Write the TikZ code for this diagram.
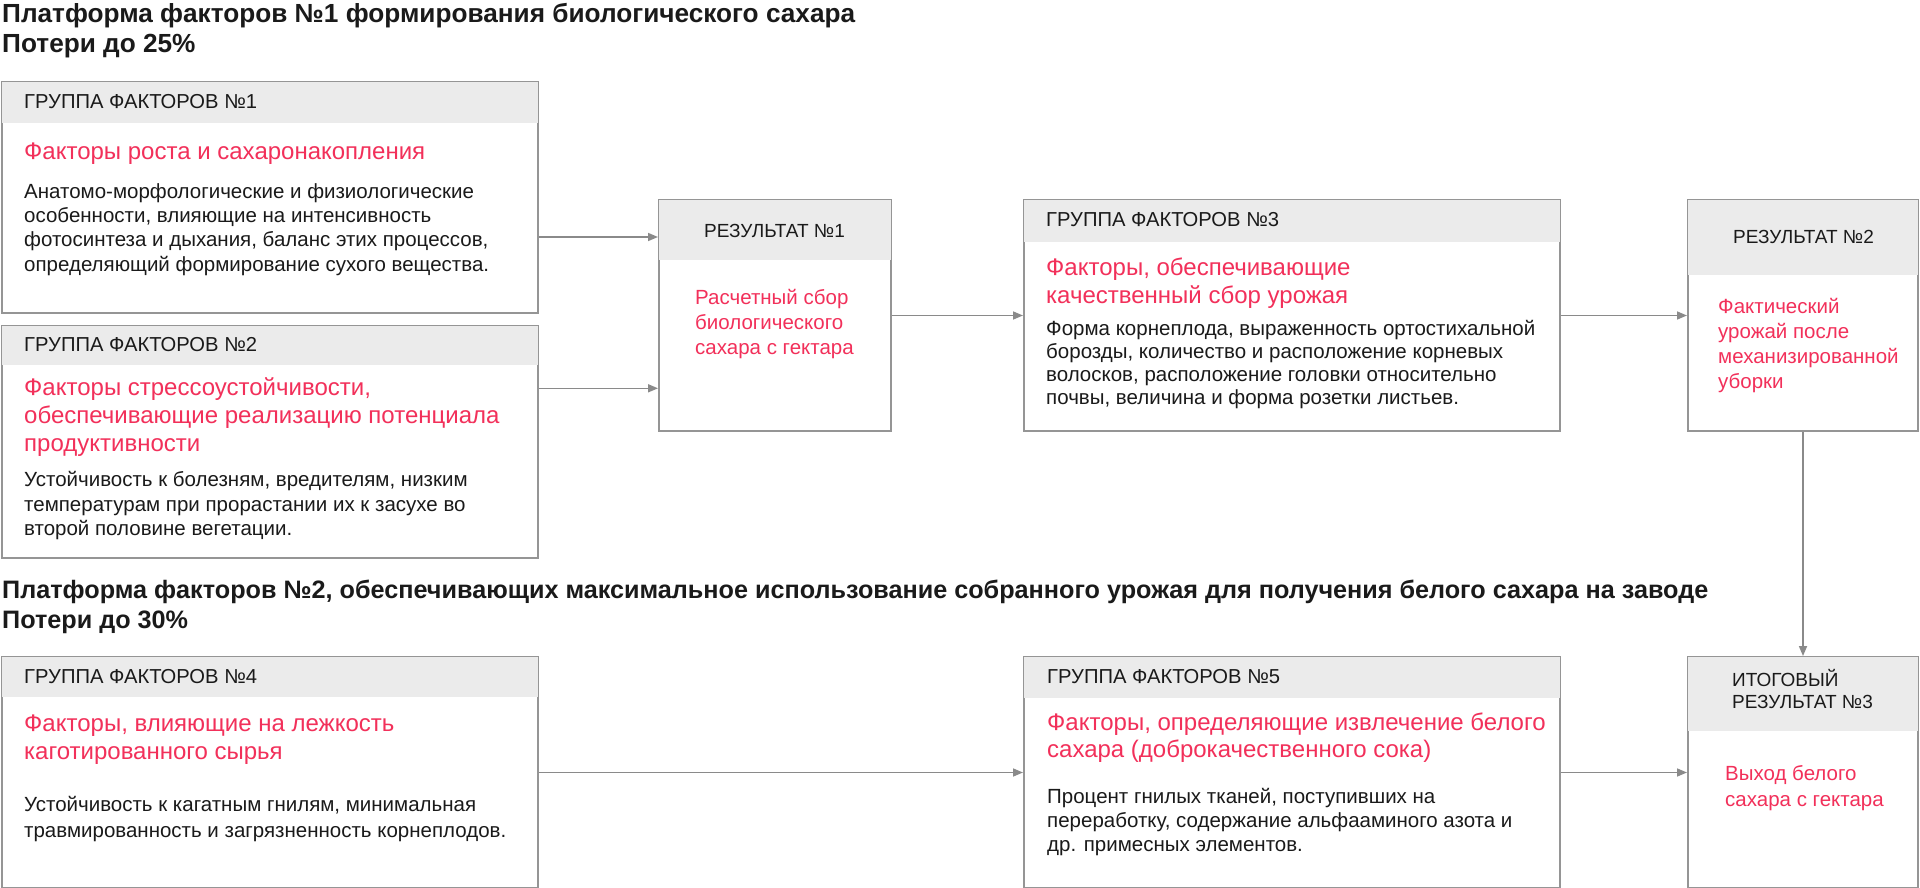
\documentclass[tikz,border=0pt]{standalone}
\usepackage{fontspec}
\setmainfont{Liberation Sans}
\usetikzlibrary{arrows.meta}
\definecolor{accent}{HTML}{F2305A}
\definecolor{hdrgray}{HTML}{EBEBEB}
\definecolor{bordergray}{HTML}{959595}
\definecolor{arrowgray}{HTML}{8A8A8A}
\definecolor{txt}{HTML}{1A1A1A}
\newcommand{\ml}[1]{\begin{tabular}[t]{@{}l@{}}#1\end{tabular}}
\tikzset{
  boxshape/.style={draw=bordergray, line width=2pt, rectangle, inner sep=0pt, anchor=north west},
  hdrfill/.style={fill=hdrgray},
  arr/.style={draw=arrowgray, line width=1.6pt, -{Triangle[length=10pt,width=8pt]}},
  lbl/.style={anchor=base west, inner sep=0pt, text=txt},
  ttl/.style={lbl, font=\fontsize{25.2}{30}\selectfont\bfseries},
  hd/.style={lbl, font=\fontsize{20.2}{22}\selectfont},
  red/.style={lbl, text=accent, font=\fontsize{24}{28}\selectfont},
  body/.style={lbl, font=\fontsize{20.5}{24.3}\selectfont},
  rhd/.style={lbl, font=\fontsize{19}{22}\selectfont},
  rred/.style={lbl, text=accent, font=\fontsize{20.5}{25}\selectfont},
}
\begin{document}
\begin{tikzpicture}[x=1pt,y=-1pt]
\useasboundingbox[fill=white] (0,0) rectangle (1920,888);

% ---- boxes ----
\node[boxshape, minimum width=536pt, minimum height=231pt] (b1) at (1,81) {};
\node[boxshape, minimum width=536pt, minimum height=232pt] (b2) at (1,325) {};
\node[boxshape, minimum width=232pt, minimum height=231pt] (r1) at (658,199) {};
\node[boxshape, minimum width=536pt, minimum height=231pt] (b3) at (1023,199) {};
\node[boxshape, minimum width=230pt, minimum height=231pt] (r2) at (1687,199) {};
\node[boxshape, minimum width=536pt, minimum height=231pt] (b4) at (1,656) {};
\node[boxshape, minimum width=536pt, minimum height=231pt] (b5) at (1023,656) {};
\node[boxshape, minimum width=230pt, minimum height=231pt] (r3) at (1687,656) {};

% ---- header bands ----
\fill[hdrfill] ([shift={(1pt,-1pt)}]b1.north west) rectangle ([shift={(-1pt,-42pt)}]b1.north east);
\fill[hdrfill] ([shift={(1pt,-1pt)}]b2.north west) rectangle ([shift={(-1pt,-40pt)}]b2.north east);
\fill[hdrfill] ([shift={(1pt,-1pt)}]r1.north west) rectangle ([shift={(-1pt,-61pt)}]r1.north east);
\fill[hdrfill] ([shift={(1pt,-1pt)}]b3.north west) rectangle ([shift={(-1pt,-43pt)}]b3.north east);
\fill[hdrfill] ([shift={(1pt,-1pt)}]r2.north west) rectangle ([shift={(-1pt,-76pt)}]r2.north east);
\fill[hdrfill] ([shift={(1pt,-1pt)}]b4.north west) rectangle ([shift={(-1pt,-41pt)}]b4.north east);
\fill[hdrfill] ([shift={(1pt,-1pt)}]b5.north west) rectangle ([shift={(-1pt,-42pt)}]b5.north east);
\fill[hdrfill] ([shift={(1pt,-1pt)}]r3.north west) rectangle ([shift={(-1pt,-75pt)}]r3.north east);

% ---- titles ----
\node[ttl, font=\fontsize{26.2}{30}\selectfont\bfseries] (t1) at (2,22.7) {\ml{Платформа факторов №1 формирования биологического сахара\\Потери до 25\%}};
\node[ttl] (t2) at (2,598) {\ml{Платформа факторов №2, обеспечивающих максимальное использование собранного урожая для получения белого сахара на заводе\\Потери до 30\%}};

% ---- group 1 ----
\node[hd] (b1h) at (24,108.3) {ГРУППА ФАКТОРОВ №1};
\node[red] (b1r) at (24,159.3) {Факторы роста и сахаронакопления};
\node[body] (b1b) at (24,198.3) {\ml{Анатомо-морфологические и физиологические\\особенности, влияющие на интенсивность\\фотосинтеза и дыхания, баланс этих процессов,\\определяющий формирование сухого вещества.}};

% ---- group 2 ----
\node[hd] (b2h) at (24,351.7) {ГРУППА ФАКТОРОВ №2};
\node[red] (b2r) at (24,395) {\ml{Факторы стрессоустойчивости,\\обеспечивающие реализацию потенциала\\продуктивности}};
\node[body] (b2b) at (24,486.7) {\ml{Устойчивость к болезням, вредителям, низким\\температурам при прорастании их к засухе во\\второй половине вегетации.}};

% ---- result 1 ----
\node[rhd] (r1h) at (704,237.3) {РЕЗУЛЬТАТ №1};
\node[rred] (r1r) at (695,304) {\ml{Расчетный сбор\\биологического\\сахара с гектара}};

% ---- group 3 ----
\node[hd] (b3h) at (1046,226.7) {ГРУППА ФАКТОРОВ №3};
\node[red] (b3r) at (1046,275) {\ml{Факторы, обеспечивающие\\качественный сбор урожая}};
\node[body, font=\fontsize{20.5}{23}\selectfont] (b3b) at (1046,335) {\ml{Форма корнеплода, выраженность ортостихальной\\борозды, количество и расположение корневых\\волосков, расположение головки относительно\\почвы, величина и форма розетки листьев.}};

% ---- result 2 ----
\node[rhd] (r2h) at (1733,243.3) {РЕЗУЛЬТАТ №2};
\node[rred] (r2r) at (1718,313) {\ml{Фактический\\урожай после\\механизированной\\уборки}};

% ---- group 4 ----
\node[hd] (b4h) at (24,683.3) {ГРУППА ФАКТОРОВ №4};
\node[red] (b4r) at (24,731.7) {\ml{Факторы, влияющие на лежкость\\каготированного сырья}};
\node[body, font=\fontsize{20.5}{25.5}\selectfont] (b4b) at (24,811.7) {\ml{Устойчивость к кагатным гнилям, минимальная\\травмированность и загрязненность корнеплодов.}};

% ---- group 5 ----
\node[hd] (b5h) at (1047,683.3) {ГРУППА ФАКТОРОВ №5};
\node[red, font=\fontsize{24}{27}\selectfont] (b5r) at (1047,730) {\ml{Факторы, определяющие извлечение белого\\сахара (доброкачественного сока)}};
\node[body] (b5b) at (1047,803.3) {\ml{Процент гнилых тканей, поступивших на\\переработку, содержание альфааминого азота и\\др. примесных элементов.}};

% ---- result 3 ----
\node[rhd, font=\fontsize{19}{21.6}\selectfont] (r3h) at (1732,686.7) {\ml{ИТОГОВЫЙ\\РЕЗУЛЬТАТ №3}};
\node[rred, font=\fontsize{20.5}{26.7}\selectfont] (r3r) at (1725,780) {\ml{Выход белого\\сахара с гектара}};

% ---- connectors ----
\draw[arr] (b1.east |- 0,237) -- (r1.west |- 0,237);
\draw[arr] (b2.east |- 0,388.3) -- (r1.west |- 0,388.3);
\draw[arr] (r1.east) -- (b3.west);
\draw[arr] (b3.east) -- (r2.west);
\draw[arr] (r2.south) -- (r3.north);
\draw[arr] (b4.east) -- (b5.west);
\draw[arr] (b5.east) -- (r3.west);
\end{tikzpicture}
\end{document}
